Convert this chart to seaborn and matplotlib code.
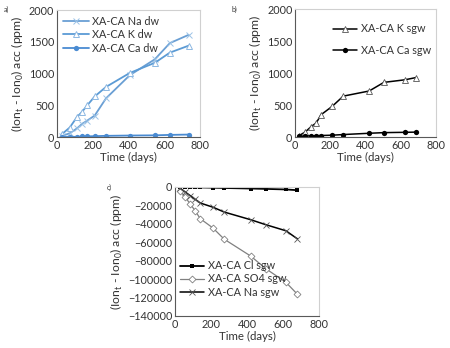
import matplotlib
matplotlib.use("Agg")
import matplotlib.pyplot as plt
import seaborn as sns
import pandas as pd
from matplotlib.ticker import MultipleLocator

# a) dw
days_dw = [28, 70, 112, 140, 168, 210, 273, 406, 546, 630, 735]
na_dw = [20, 60, 140, 210, 260, 340, 610, 975, 1225, 1480, 1610]
k_dw = [50, 150, 320, 400, 500, 640, 790, 1010, 1170, 1330, 1440]
ca_dw = [2, 3, 5, 10, 12, 15, 20, 25, 28, 35, 40]

# b) sgw
days_b = [20, 57, 91, 119, 147, 210, 273, 420, 504, 623, 686]
k_sgw = [20, 80, 165, 220, 350, 480, 640, 720, 855, 895, 930]
ca_sgw = [10, 15, 20, 22, 25, 30, 40, 60, 70, 75, 78]

# c) sgw
days_c = [28, 56, 84, 112, 140, 210, 273, 420, 504, 616, 680]
cl_sgw = [-200, -300, -400, -500, -600, -900, -1200, -1800, -2200, -2800, -3600]
so4_sgw = [-4000, -11000, -18500, -26000, -34500, -44500, -56700, -75000, -88700, -103500, -116500]
na_sgw = [-1500, -5500, -9500, -13500, -17500, -22000, -27300, -35600, -41000, -47600, -56400]

sns.set_style("white")
plt.rcParams['font.family'] = ['Lato', 'DejaVu Sans']
plt.rcParams['mathtext.fontset'] = 'custom'
plt.rcParams['mathtext.rm'] = 'Lato'

ylab = r"(Ion$_\mathregular{t}$ - Ion$_\mathregular{0}$) acc (ppm)"
fs = 7.8


def style_ax(ax, ymin, ymax, ymaj, ymin_step):
    ax.set_xlim(0, 800)
    ax.set_ylim(ymin, ymax)
    ax.xaxis.set_major_locator(MultipleLocator(200))
    ax.xaxis.set_minor_locator(MultipleLocator(50))
    ax.yaxis.set_major_locator(MultipleLocator(ymaj))
    ax.yaxis.set_minor_locator(MultipleLocator(ymin_step))
    ax.tick_params(which='both', direction='in', colors='#595959', labelcolor='#333333',
                   labelsize=fs, pad=2, length=2, width=0.6)
    for s in ['left', 'bottom']:
        ax.spines[s].set_color('#595959')
        ax.spines[s].set_linewidth(0.8)
    for s in ['top', 'right']:
        ax.spines[s].set_color('#d0d0d0')
        ax.spines[s].set_linewidth(0.8)
    ax.set_xlabel("Time (days)", fontsize=8.3, color='#333333', labelpad=1)
    ax.set_ylabel(ylab, fontsize=8.8, color='#333333', labelpad=2)


fig = plt.figure(figsize=(4.5, 3.48), dpi=100)
ax_a = fig.add_axes([0.127, 0.606, 0.318, 0.365])
ax_b = fig.add_axes([0.656, 0.606, 0.313, 0.368])
ax_c = fig.add_axes([0.389, 0.092, 0.320, 0.371])

# panel a
dfa = pd.DataFrame({'days': days_dw, 'na': na_dw, 'k': k_dw, 'ca': ca_dw})
sns.lineplot(data=dfa, x='days', y='na', ax=ax_a, color='#6a9fd4', lw=1.3, marker='x',
             ms=4, mew=0.7, mec='#9cc3e6', label='XA-CA Na dw')
sns.lineplot(data=dfa, x='days', y='k', ax=ax_a, color='#5b9bd5', lw=1.3, marker='^',
             ms=4, mew=0.7, mfc='white', mec='#8db8e2', label='XA-CA K dw')
sns.lineplot(data=dfa, x='days', y='ca', ax=ax_a, color='#4a8bd2', lw=1.3, marker='o',
             ms=3.8, mew=0, label='XA-CA Ca dw')
style_ax(ax_a, 0, 2000, 500, 100)
ax_a.legend(loc='upper left', frameon=False, fontsize=fs, handlelength=2.4,
            borderaxespad=0.1, labelspacing=0.25, handletextpad=0.3, labelcolor='#333333')

# panel b
dfb = pd.DataFrame({'days': days_b, 'k': k_sgw, 'ca': ca_sgw})
sns.lineplot(data=dfb, x='days', y='k', ax=ax_b, color='black', lw=1.1, marker='^',
             ms=4, mew=0.6, mfc='white', mec='#555555', label='XA-CA K sgw')
sns.lineplot(data=dfb, x='days', y='ca', ax=ax_b, color='black', lw=1.1, marker='o',
             ms=3.8, mew=0, label='XA-CA Ca sgw')
style_ax(ax_b, 0, 2000, 500, 100)
ax_b.legend(loc='upper right', bbox_to_anchor=(1.0, 0.93), frameon=False, fontsize=fs,
            handlelength=2.2, labelspacing=1.0, handletextpad=0.3, borderaxespad=0.1,
            labelcolor='#333333')

# panel c
dfc = pd.DataFrame({'days': days_c, 'cl': cl_sgw, 'so4': so4_sgw, 'na': na_sgw})
sns.lineplot(data=dfc, x='days', y='cl', ax=ax_c, color='black', lw=1.3, marker='s',
             ms=3.5, mew=0, label='XA-CA Cl sgw')
sns.lineplot(data=dfc, x='days', y='so4', ax=ax_c, color='#808080', lw=0.9, marker='D',
             ms=3.5, mew=0.6, mfc='white', mec='#808080', label='XA-CA SO4 sgw')
sns.lineplot(data=dfc, x='days', y='na', ax=ax_c, color='black', lw=1.1, marker='x',
             ms=4, mew=0.6, mec='#555555', label='XA-CA Na sgw')
style_ax(ax_c, -140000, 0, 20000, 10000)
ax_c.legend(loc='lower left', bbox_to_anchor=(0.0, 0.1), frameon=False, fontsize=fs,
            handlelength=2.2, labelspacing=0.2, handletextpad=0.3, borderaxespad=0.1,
            labelcolor='#333333')

fig.text(0.008, 0.965, "a)", fontsize=5, color='#333333')
fig.text(0.515, 0.965, "b)", fontsize=5, color='#333333')
fig.text(0.238, 0.455, "c)", fontsize=5, color='#333333')

fig.savefig("out.png", dpi=100, facecolor='white')
